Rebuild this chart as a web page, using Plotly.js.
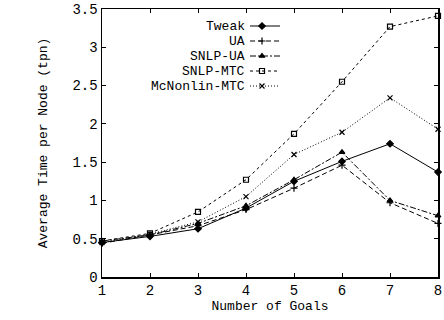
<!DOCTYPE html>
<html>
<head>
<meta charset="utf-8">
<script src="https://cdn.plot.ly/plotly-3.0.1.min.js"></script>
<style>
  html, body { margin: 0; padding: 0; background: #fff; }
  #chart { width: 444px; height: 320px; }
</style>
</head>
<body>
<div id="chart"></div>
<script>
// Number of goals on the x axis
const goals = [1, 2, 3, 4, 5, 6, 7, 8];

// Average time per node (tpn) for each planner
const tweak       = [0.45, 0.53, 0.63, 0.90, 1.25, 1.51, 1.74, 1.37];
const ua          = [0.44, 0.55, 0.67, 0.88, 1.16, 1.46, 0.97, 0.70];
const snlpUa      = [0.47, 0.55, 0.70, 0.93, 1.27, 1.63, 1.00, 0.80];
const snlpMtc     = [0.47, 0.57, 0.85, 1.27, 1.87, 2.55, 3.27, 3.41];
const mcnonlinMtc = [0.45, 0.56, 0.72, 1.05, 1.60, 1.89, 2.34, 1.93];

const seriesNames = ['Tweak', 'UA', 'SNLP-UA', 'SNLP-MTC', 'McNonlin-MTC'];

const yTickVals = [0, 0.5, 1, 1.5, 2, 2.5, 3, 3.5];
const yTickText = ['0', '0.5', '1', '1.5', '2', '2.5', '3', '3.5'];

const FONT = 'Liberation Mono, Courier New, monospace';
const INK = '#000';

const styles = [
  { dash: 'solid',            symbol: 'diamond',         size: 5 },
  { dash: '5px,3px',          symbol: 'cross-thin-open', size: 5 },
  { dash: '6px,2px,2px,2px',  symbol: 'triangle-up',     size: 5 },
  { dash: '3px,3px',          symbol: 'square-open',     size: 5 },
  { dash: '1px,2px',          symbol: 'x-thin-open',     size: 5 }
];
const values = [tweak, ua, snlpUa, snlpMtc, mcnonlinMtc];

const traces = values.map((ys, i) => ({
  type: 'scatter',
  mode: 'lines+markers',
  name: seriesNames[i],
  x: goals,
  y: ys,
  cliponaxis: false,
  line: { color: INK, width: 1, dash: styles[i].dash },
  marker: { color: INK, symbol: styles[i].symbol, size: styles[i].size,
            line: { color: INK, width: 1.2 } },
  showlegend: false,
  hoverinfo: 'skip'
}));

// Key: label on the left, line sample with marker on the right,
// drawn on a hidden overlay axis measured in plot-area pixels.
const keyRows = [17, 32, 47, 62, 77];
const keyX0 = 148, keyX1 = 178, keyMid = 160;
const annotations = [];
seriesNames.forEach((name, i) => {
  traces.push({
    type: 'scatter', mode: 'lines',
    x: [keyX0, keyX1], y: [keyRows[i], keyRows[i]],
    xaxis: 'x2', yaxis: 'y2',
    line: { color: INK, width: 1, dash: styles[i].dash },
    showlegend: false, hoverinfo: 'skip'
  });
  traces.push({
    type: 'scatter', mode: 'markers',
    x: [keyMid], y: [keyRows[i]],
    xaxis: 'x2', yaxis: 'y2',
    marker: { color: INK, symbol: styles[i].symbol, size: styles[i].size,
              line: { color: INK, width: 1.2 } },
    showlegend: false, hoverinfo: 'skip'
  });
  annotations.push({
    xref: 'x2', yref: 'y2', x: keyX0 - 3, y: keyRows[i],
    xanchor: 'right', yanchor: 'middle', showarrow: false,
    text: name, font: { family: FONT, size: 13, color: INK }
  });
});

const axisCommon = {
  showline: true, mirror: 'ticks', linecolor: INK, linewidth: 1.5,
  ticks: 'inside', ticklen: 4, tickwidth: 1, tickcolor: INK,
  showgrid: false, zeroline: false,
  tickfont: { family: FONT, size: 14, color: INK }
};

const layout = {
  width: 444, height: 320,
  margin: { l: 102, r: 6, t: 9, b: 43, autoexpand: false },
  paper_bgcolor: '#fff', plot_bgcolor: '#fff',
  font: { family: FONT, color: INK },
  xaxis: Object.assign({}, axisCommon, {
    range: [1, 8], tickvals: goals, ticktext: goals.map(String),
    automargin: false,
    title: { text: 'Number of Goals', font: { family: FONT, size: 13, color: INK }, standoff: 1 }
  }),
  yaxis: Object.assign({}, axisCommon, {
    range: [0, 3.5], tickvals: yTickVals, ticktext: yTickText,
    automargin: false,
    title: { text: 'Average Time per Node (tpn)', font: { family: FONT, size: 13, color: INK }, standoff: 22 }
  }),
  xaxis2: { overlaying: 'x', range: [0, 336], visible: false, fixedrange: true },
  yaxis2: { overlaying: 'y', range: [268, 0], visible: false, fixedrange: true },
  annotations: annotations,
  showlegend: false
};

Plotly.newPlot('chart', traces, layout, { staticPlot: true, displayModeBar: false });
</script>
</body>
</html>
